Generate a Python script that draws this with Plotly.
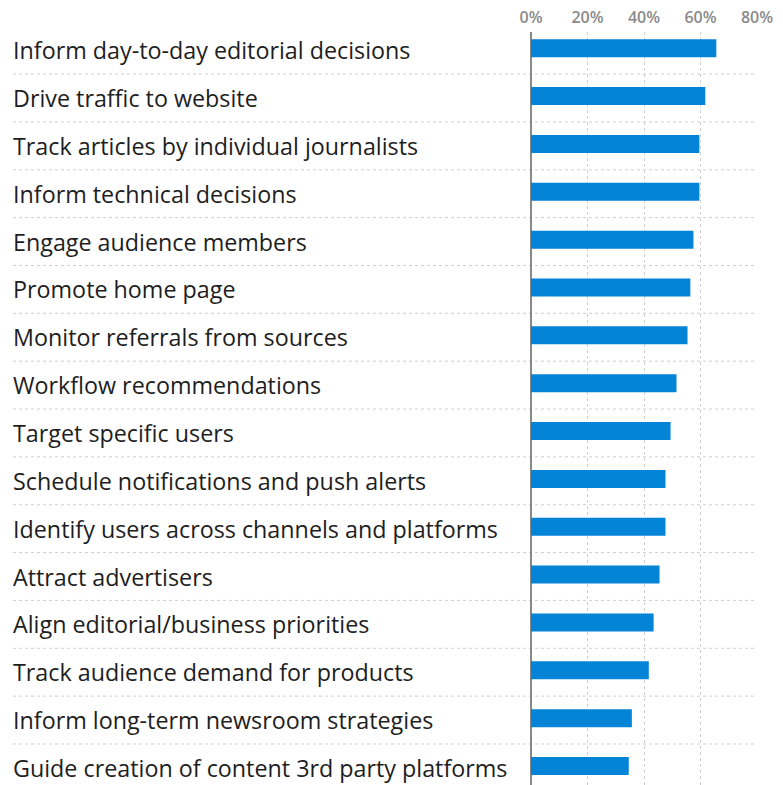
import plotly.graph_objects as go

categories = [
    "Inform day-to-day editorial decisions",
    "Drive traffic to website",
    "Track articles by individual journalists",
    "Inform technical decisions",
    "Engage audience members",
    "Promote home page",
    "Monitor referrals from sources",
    "Workflow recommendations",
    "Target specific users",
    "Schedule notifications and push alerts",
    "Identify users across channels and platforms",
    "Attract advertisers",
    "Align editorial/business priorities",
    "Track audience demand for products",
    "Inform long-term newsroom strategies",
    "Guide creation of content 3rd party platforms",
]
values = [65.6, 61.7, 59.6, 59.6, 57.5, 56.4, 55.4, 51.5, 49.4, 47.6, 47.6, 45.5, 43.4, 41.7, 35.7, 34.6]
tick_vals = [0, 20, 40, 60, 80]
tick_text = ["0%", "20%", "40%", "60%", "80%"]

W, H = 783, 785
L, R, T, B = 531, 26, 32, 0
plot_w = W - L - R

fig = go.Figure()
fig.add_trace(go.Bar(
    x=values, y=list(range(len(categories))), orientation="h",
    marker=dict(color="#0384d6", line=dict(width=0)),
    width=0.376, offset=-0.188 - 0.04,
    hoverinfo="skip",
))

shapes = []
for i in range(len(categories) - 1):
    shapes.append(dict(type="line", xref="paper", yref="y",
                       x0=(13 - L) / plot_w, x1=1.0, y0=i + 0.5, y1=i + 0.5,
                       line=dict(color="#cfcfcf", width=1, dash="dot"), layer="below"))

annotations = []
for i, c in enumerate(categories):
    annotations.append(dict(text=c, xref="paper", yref="y", x=(11 - L) / plot_w, y=i,
                            xanchor="left", yanchor="middle", showarrow=False,
                            font=dict(family="Open Sans", size=23.3, color="#1e1e1e")))

fig.update_layout(
    width=W, height=H,
    margin=dict(l=L, r=R, t=T, b=B, pad=0),
    paper_bgcolor="white", plot_bgcolor="white",
    showlegend=False,
    shapes=shapes, annotations=annotations,
    xaxis=dict(side="top", range=[0, 80], tickvals=tick_vals, ticktext=tick_text,
               showgrid=True, gridcolor="#cfcfcf", griddash="dot", gridwidth=1,
               zeroline=True, zerolinecolor="#888888", zerolinewidth=2,
               showline=False, ticks="", ticklabelstandoff=5,
               tickfont=dict(family="Open Sans", size=16, color="#8a8a8a", weight=600)),
    yaxis=dict(range=[15.357, -0.379], showgrid=False, zeroline=False,
               showticklabels=False, showline=False, ticks=""),
)
fig.write_html("out.html", config={"displayModeBar": False},
               post_script="document.body.style.margin='0';document.body.style.overflow='hidden';")
